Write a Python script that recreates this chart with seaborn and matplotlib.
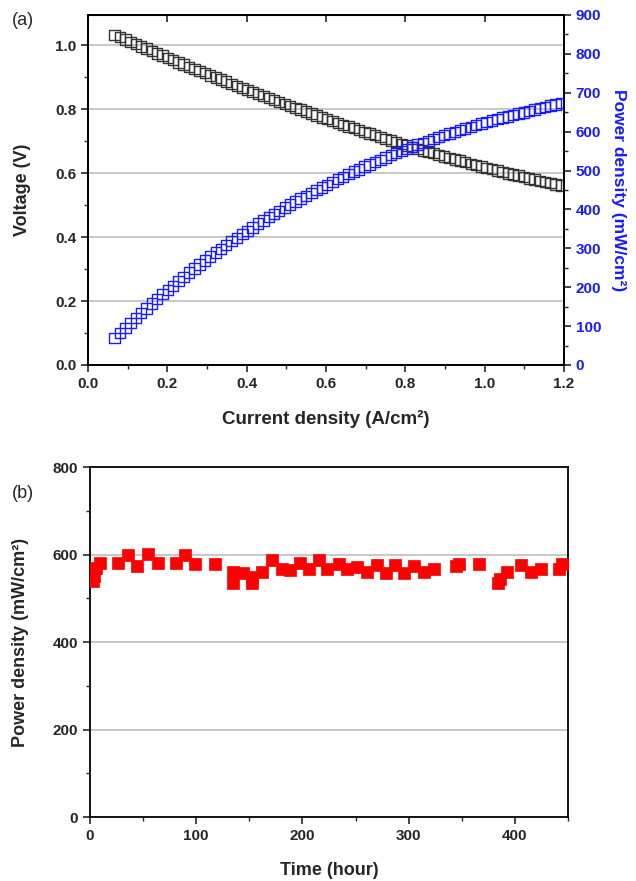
import numpy as np
import pandas as pd
import matplotlib
matplotlib.use("Agg")
import matplotlib.pyplot as plt
from matplotlib.ticker import MultipleLocator, FormatStrFormatter, NullFormatter
import seaborn as sns

# (a) polarization curve
current = [0.067, 0.080, 0.094, 0.107, 0.121, 0.134, 0.147, 0.161, 0.174, 0.188,
           0.201, 0.214, 0.228, 0.241, 0.255, 0.268, 0.281, 0.295, 0.308, 0.322,
           0.335, 0.348, 0.362, 0.375, 0.389, 0.402, 0.415, 0.429, 0.442, 0.456,
           0.469, 0.482, 0.496, 0.509, 0.523, 0.536, 0.549, 0.563, 0.576, 0.590,
           0.603, 0.616, 0.630, 0.643, 0.657, 0.670, 0.683, 0.697, 0.710, 0.724,
           0.737, 0.750, 0.764, 0.777, 0.791, 0.804, 0.817, 0.831, 0.844, 0.858,
           0.871, 0.884, 0.898, 0.911, 0.925, 0.938, 0.951, 0.965, 0.978, 0.992,
           1.005, 1.018, 1.032, 1.045, 1.059, 1.072, 1.085, 1.099, 1.112, 1.126,
           1.139, 1.152, 1.166, 1.179, 1.193]
voltage = [1.032, 1.025, 1.017, 1.010, 1.003, 0.996, 0.989, 0.981, 0.974, 0.967,
           0.960, 0.953, 0.946, 0.939, 0.932, 0.925, 0.919, 0.912, 0.905, 0.898,
           0.892, 0.886, 0.879, 0.872, 0.866, 0.859, 0.853, 0.847, 0.841, 0.834,
           0.828, 0.822, 0.816, 0.810, 0.803, 0.798, 0.792, 0.786, 0.780, 0.774,
           0.768, 0.763, 0.757, 0.751, 0.745, 0.740, 0.734, 0.729, 0.723, 0.718,
           0.712, 0.707, 0.702, 0.697, 0.691, 0.686, 0.681, 0.676, 0.671, 0.666,
           0.662, 0.657, 0.652, 0.647, 0.642, 0.639, 0.634, 0.629, 0.625, 0.621,
           0.616, 0.612, 0.608, 0.604, 0.599, 0.595, 0.592, 0.587, 0.583, 0.580,
           0.576, 0.572, 0.568, 0.564, 0.561]
power = [69.1, 82.0, 95.6, 108.1, 121.4, 133.5, 145.4, 157.9, 169.5, 181.8,
         193.0, 203.9, 215.7, 226.3, 237.7, 247.9, 258.2, 269.0, 278.7, 289.2,
         298.8, 308.3, 318.2, 327.0, 336.9, 345.3, 354.0, 363.4, 371.7, 380.3,
         388.3, 396.2, 404.7, 412.3, 420.0, 427.7, 434.8, 442.5, 449.3, 456.7,
         463.2, 470.3, 477.5, 483.8, 490.7, 497.2, 503.0, 510.1, 515.5, 522.3,
         527.5, 533.4, 539.6, 545.2, 550.5, 555.6, 560.8, 566.5, 571.3, 576.6,
         581.2, 585.7, 590.7, 594.8, 599.5, 604.4, 608.1, 612.5, 617.0, 621.1,
         624.3, 628.5, 632.1, 636.1, 639.4, 643.2, 646.8, 649.7, 653.1, 657.0,
         660.2, 663.2, 666.8, 669.7, 672.9]

# (b) durability test
hours = [2.5, 4, 6, 9.5, 26.7, 35.5, 44, 55, 63.8, 80.8, 89.6, 99, 117.3,
         135, 135, 143.7, 152.5, 152.5, 162, 171.4, 180.8, 188.7, 198, 206.6,
         215.4, 223.3, 234, 242, 251.6, 261, 270.5, 278.3, 287, 295.6, 305,
         314.4, 324, 344.3, 347.5, 366.4, 383.7, 385.8, 393, 405.7, 415, 424.5,
         441.8, 444.3]
stab_power = [539, 552, 570, 580, 581, 598, 573, 602, 581, 581, 598, 578, 578,
              560, 534, 557, 549, 534, 560, 587, 568, 564, 581, 568, 587, 568,
              578, 566, 572, 560, 576, 557, 576, 557, 573, 560, 568, 573, 579,
              578, 534, 545, 560, 576, 560, 566, 568, 578]

sns.set_style("ticks")
plt.rcParams["font.family"] = ["Liberation Sans", "DejaVu Sans"]
plt.rcParams["font.weight"] = "bold"
plt.rcParams["axes.labelweight"] = "bold"

blue = "#1a1aff"
grid_kw = dict(color="#c8c8c8", lw=1.4, zorder=0)

fig = plt.figure(figsize=(6.36, 8.81), dpi=100)
ax = fig.add_axes([0.1384, 0.5857, 0.7484, 0.3973])
ax2 = ax.twinx()

pol = pd.DataFrame({"current": current, "voltage": voltage, "power": power})
sns.scatterplot(data=pol, x="current", y="voltage", ax=ax, marker="s", s=56,
                facecolor="none", edgecolor="#333333", linewidth=1.0, zorder=3)
sns.scatterplot(data=pol, x="current", y="power", ax=ax2, marker="s", s=56,
                facecolor="none", edgecolor=blue, linewidth=1.0, zorder=3)

ax.set_xlim(0, 1.2)
ax.set_ylim(0, 1.094)
ax2.set_ylim(0, 900)
ax.xaxis.set_major_locator(MultipleLocator(0.2))
ax.xaxis.set_minor_locator(MultipleLocator(0.1))
ax.xaxis.set_major_formatter(FormatStrFormatter("%.1f"))
ax.yaxis.set_major_locator(MultipleLocator(0.2))
ax.yaxis.set_minor_locator(MultipleLocator(0.1))
ax.yaxis.set_major_formatter(FormatStrFormatter("%.1f"))
ax2.yaxis.set_major_locator(MultipleLocator(100))
ax2.yaxis.set_minor_locator(MultipleLocator(50))
for y in [0.2, 0.4, 0.6, 0.8, 1.0]:
    ax.axhline(y, **grid_kw)

ax.set_xlabel("Current density (A/cm²)", fontsize=13.5, labelpad=14)
ax.set_ylabel("Voltage (V)", fontsize=13, labelpad=17)
ax2.set_ylabel("Power density (mW/cm²)", fontsize=12.5, color=blue,
               rotation=270, labelpad=18)

ax.tick_params(axis="both", which="major", direction="out", length=5, width=1.2,
               labelsize=11)
ax.tick_params(axis="both", which="minor", direction="out", length=3, width=1.0)
ax2.tick_params(axis="y", which="major", direction="out", length=5, width=1.2,
                labelsize=11, labelcolor=blue)
ax2.tick_params(axis="y", which="minor", direction="out", length=3, width=1.0)

# short inward ticks along the top edge of panel (a)
top = ax.secondary_xaxis("top")
top.xaxis.set_major_locator(MultipleLocator(0.2))
top.xaxis.set_major_formatter(NullFormatter())
top.tick_params(axis="x", which="major", direction="in", length=5, width=1.2)
top.tick_params(axis="x", which="minor", length=0)

for a in (ax, ax2):
    for sp in a.spines.values():
        sp.set_linewidth(1.3)
        sp.set_color("black")
    a.set_axisbelow(True)
for lab in ax.get_xticklabels() + ax.get_yticklabels() + ax2.get_yticklabels():
    lab.set_fontweight("bold")

fig.text(0.019, 0.977, "(a)", fontsize=13, fontweight="normal", va="center")

# panel (b)
bx = fig.add_axes([0.1415, 0.0726, 0.7516, 0.3973])
stab = pd.DataFrame({"hours": hours, "power": stab_power})
sns.scatterplot(data=stab, x="hours", y="power", ax=bx, marker="s", s=68,
                color="#ff0000", edgecolor="#ff0000", linewidth=0.5, zorder=3)
bx.set_xlim(0, 450)
bx.set_ylim(0, 800)
bx.xaxis.set_major_locator(MultipleLocator(100))
bx.xaxis.set_minor_locator(MultipleLocator(50))
bx.yaxis.set_major_locator(MultipleLocator(200))
bx.yaxis.set_minor_locator(MultipleLocator(100))
for y in [200, 400, 600]:
    bx.axhline(y, **grid_kw)
bx.set_xlabel("Time (hour)", fontsize=13, labelpad=14)
bx.set_ylabel("Power density (mW/cm²)", fontsize=13, labelpad=17)
bx.tick_params(axis="both", which="major", direction="out", length=5, width=1.2,
               labelsize=11)
bx.tick_params(axis="both", which="minor", direction="out", length=3, width=1.0)
for sp in bx.spines.values():
    sp.set_visible(True)
    sp.set_linewidth(1.3)
    sp.set_color("black")
for lab in bx.get_xticklabels() + bx.get_yticklabels():
    lab.set_fontweight("bold")

fig.text(0.019, 0.44, "(b)", fontsize=13, fontweight="normal", va="center")

fig.savefig("out.png", dpi=100)
